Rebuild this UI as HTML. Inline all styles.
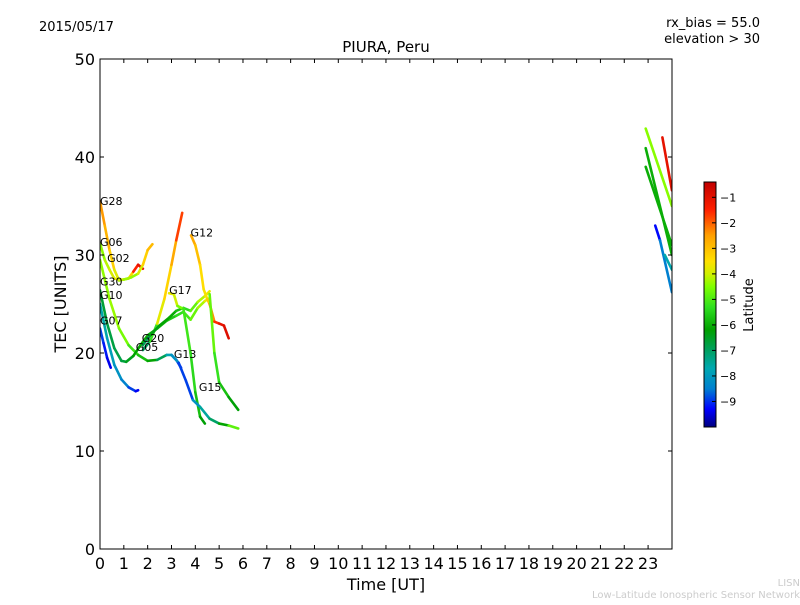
<!DOCTYPE html>
<html><head><meta charset="utf-8"><style>
body{margin:0;background:#fff}
svg text{font-family:"DejaVu Sans","Liberation Sans",sans-serif}
</style></head><body>
<svg id="c" width="800" height="600" viewBox="0 0 800 600">
<rect width="800" height="600" fill="#fff"/>
<text x="39" y="31" font-size="13">2015/05/17</text>
<text x="760" y="27" font-size="13" text-anchor="end">rx_bias = 55.0</text>
<text x="760" y="43" font-size="13" text-anchor="end">elevation &gt; 30</text>
<text x="386" y="52" font-size="15" text-anchor="middle">PIURA, Peru</text>
<text x="386" y="590" font-size="16" text-anchor="middle">Time [UT]</text>
<text transform="translate(66,304) rotate(-90)" font-size="16" text-anchor="middle">TEC [UNITS]</text>
<text x="800" y="586" font-size="10" text-anchor="end" fill="#ccc">LISN</text>
<text x="800" y="598" font-size="10" text-anchor="end" fill="#ccc">Low-Latitude Ionospheric Sensor Network</text>
<defs><clipPath id="pc"><rect x="100" y="59" width="572" height="490"/></clipPath>
<linearGradient id="jet" x1="0" y1="1" x2="0" y2="0"></linearGradient></defs>
<g id="marks" clip-path="url(#pc)"></g>
<rect x="100" y="59" width="572" height="490" fill="none" stroke="#000" stroke-width="1"/>
<g id="axes"></g>
<rect x="704" y="182" width="12" height="245" fill="url(#jet)" stroke="#000" stroke-width="1"/>
<g id="cbticks"></g>
<text transform="translate(753,305) rotate(-90)" font-size="13" text-anchor="middle">Latitude</text>
</svg>
<script>
const xTicks=[0,1,2,3,4,5,6,7,8,9,10,11,12,13,14,15,16,17,18,19,20,21,22,23];
const yTicks=[0,10,20,30,40,50];
const cbTicks=[-1,-2,-3,-4,-5,-6,-7,-8,-9];
const names=["G28","G06","G30","rise","G10","G20","G07","G07b","G12","G17","G12b","G15","R1","R2","R3","R4","R5","R6"];
const times=[
[0,0.2,0.4,0.6,0.8,1.0,1.2,1.4,1.6,1.8],
[0,0.2,0.4,0.6,0.8,1.0,1.3,1.6,1.8,2.0,2.2],
[0,0.4,0.8,1.2,1.6,2.0,2.4,2.8,3.0,3.2,3.4],
[1.8,2.1,2.4,2.7,3.0,3.2,3.45],
[0,0.3,0.6,0.9,1.1,1.4,1.7,2.0,2.4,2.8,3.2,3.5,3.8,4.1,4.4,4.6],
[1.8,2.1,2.5,2.9,3.2,3.5,3.8,4.1,4.4,4.6],
[0,0.15,0.3,0.45],
[0,0.3,0.6,0.9,1.2,1.5,1.6],
[3.82,4.0,4.2,4.35,4.5,4.6,4.8,5.0,5.2,5.4],
[2.9,3.1,3.25,3.5,3.8,4.0,4.2,4.4],
[4.6,4.8,5.0,5.4,5.8],
[3.0,3.3,3.6,3.9,4.2,4.6,5.0,5.4,5.8],
[22.9,24.0],[23.6,24.0],[22.9,24.0],[22.9,24.0],[23.3,23.5,24.0],[23.7,24.0]];
const tec=[
[35.5,33,30.5,28.5,27.4,27.5,27.6,28.3,29.0,28.6],
[31.2,29.5,28.5,27.6,27.5,27.5,27.7,28.1,29,30.5,31.1],
[29.5,25.5,22.5,20.8,19.8,19.2,19.3,19.8,19.8,19.3,18.5],
[20.3,21.2,23,25.5,29,31.5,34.3],
[26.4,23,20.5,19.2,19.1,19.7,20.8,21.8,22.5,23.3,23.8,24.2,23.4,24.6,25.3,25.6],
[20.8,21.8,22.8,23.6,24.3,24.6,24.3,25.2,25.8,26.3],
[22.5,21,19.5,18.5],
[25,21.5,18.8,17.3,16.5,16.1,16.2],
[32,31,29,26.5,25.5,25,23.2,23,22.8,21.5],
[26.1,26,24.8,24.5,20,16,13.5,12.8],
[26,20,17,15.5,14.2],
[19.8,19.0,17.2,15.2,14.5,13.3,12.8,12.6,12.3],
[42.9,35.0],[42,36.6],[40.9,30],[39,31],[33,31.5,26.2],[30,28.5]];
const lats=[
[-2.3,-2.6,-3,-3.5,-4.2,-4.6,-4.5,-2,-1,-1.1],
[-4.5,-4.3,-4,-3.8,-3.7,-4.2,-4.4,-4.3,-3.5,-3,-2.8],
[-4.5,-4.3,-4.4,-4.8,-5.5,-6,-6.3,-7.5,-8,-8.8,-9.3],
[-7.5,-6.5,-4,-3.6,-3,-2.3,-1.2],
[-6.6,-6.7,-6.8,-6.8,-6.6,-6.3,-6.1,-6,-6,-5.8,-5.5,-5.2,-5,-4.5,-4,-3.5],
[-7.3,-6.5,-6.2,-6.1,-6,-5.5,-5.2,-4.4,-4,-3.5],
[-8.8,-9,-9.3,-9.5],
[-7.5,-7.8,-8,-8.3,-8.6,-9.2,-9.5],
[-2.5,-2.8,-3.2,-3.7,-3.5,-2.8,-2,-1.2,-1,-0.8],
[-3.7,-3.8,-4.2,-5,-5.3,-5.5,-6,-6.5],
[-4.5,-5,-5.5,-6,-6.5],
[-7.8,-8.5,-9.3,-8.5,-7.8,-7.3,-6.8,-5.5,-4.2],
[-4.3,-4.6],[-1,-1.1],[-6.5,-5.5],[-6.2,-5.8],[-9.5,-9,-8],[-7.8,-7.6]];
const labels=[["G28",0,35.2],["G06",0,31.0],["G02",0.3,29.4],["G30",0,27.0],["G10",0,25.6],["G07",0,23.0],["G05",1.5,20.3],["G20",1.75,21.2],["G17",2.9,26.1],["G12",3.8,32.0],["G13",3.1,19.6],["G15",4.15,16.2]];
const sx=t=>100+t*23.83, sy=v=>549-v*9.8;
const cy=l=>182+(-0.4-l)/9.6*245;
const cstops=[[-10,[0,0,127]],[-9.3,[0,0,255]],[-8.5,[0,128,208]],[-7.7,[0,168,176]],[-7,[0,160,96]],[-6.2,[0,160,0]],[-5.3,[48,224,32]],[-4.5,[128,255,0]],[-4,[208,240,0]],[-3.5,[255,224,0]],[-2.5,[255,160,0]],[-1.5,[255,32,0]],[-0.4,[192,0,0]]];
function jet(l){
 if(l<=cstops[0][0])return `rgb(${cstops[0][1]})`;
 for(let i=0;i<cstops.length-1;i++){const [a,ca]=cstops[i],[b,cb]=cstops[i+1];
  if(l<=b){const f=(l-a)/(b-a);return `rgb(${ca.map((c,j)=>Math.round(c+(cb[j]-c)*f)).join(',')})`;}}
 return `rgb(${cstops[cstops.length-1][1]})`;}
const NS="http://www.w3.org/2000/svg";
const grad=document.getElementById('jet');
for(const [l,c] of cstops){const st=document.createElementNS(NS,'stop');st.setAttribute('offset',(l+10)/9.6);st.setAttribute('stop-color',`rgb(${c})`);grad.appendChild(st);}
const marks=document.getElementById('marks');
for(let s=0;s<times.length;s++){
 const t=times[s],v=tec[s],l=lats[s];
 for(let i=0;i<t.length-1;i++){
  const seg=document.createElementNS(NS,'line');
  seg.setAttribute('x1',sx(t[i]));seg.setAttribute('y1',sy(v[i]));
  seg.setAttribute('x2',sx(t[i+1]));seg.setAttribute('y2',sy(v[i+1]));
  seg.setAttribute('stroke',jet((l[i]+l[i+1])/2));
  seg.setAttribute('stroke-width','2.6');seg.setAttribute('stroke-linecap','round');
  
  
  marks.appendChild(seg);
 }
}
for(const [n,t,v] of labels){
 const tx=document.createElementNS(NS,'text');
 tx.setAttribute('x',sx(t));tx.setAttribute('y',sy(v)+1);tx.setAttribute('font-size','11');
 tx.textContent=n;
 
 
 marks.appendChild(tx);
}
const ax=document.getElementById('axes');
for(const t of xTicks){
 const x=sx(t);
 for(const [a,b] of [[549,545],[59,63]]){const k=document.createElementNS(NS,'line');k.setAttribute('x1',x);k.setAttribute('x2',x);k.setAttribute('y1',a);k.setAttribute('y2',b);k.setAttribute('stroke','#000');
 
 
 ax.appendChild(k);}
 const tx=document.createElementNS(NS,'text');tx.setAttribute('x',x);tx.setAttribute('y',569);tx.setAttribute('font-size','16');tx.setAttribute('text-anchor','middle');tx.textContent=t;
 
 
 ax.appendChild(tx);
}
for(const v of yTicks){
 const y=sy(v);
 for(const [a,b] of [[100,104],[672,668]]){const k=document.createElementNS(NS,'line');k.setAttribute('x1',a);k.setAttribute('x2',b);k.setAttribute('y1',y);k.setAttribute('y2',y);k.setAttribute('stroke','#000');
 
 
 ax.appendChild(k);}
 const tx=document.createElementNS(NS,'text');tx.setAttribute('x',95);tx.setAttribute('y',y+6);tx.setAttribute('font-size','16');tx.setAttribute('text-anchor','end');tx.textContent=v;
 
 
 ax.appendChild(tx);
}
const cb=document.getElementById('cbticks');
for(const l of cbTicks){
 const y=cy(l);
 const k=document.createElementNS(NS,'line');k.setAttribute('x1',712);k.setAttribute('x2',716);k.setAttribute('y1',y);k.setAttribute('y2',y);k.setAttribute('stroke','#000');
 
 
 cb.appendChild(k);
 const tx=document.createElementNS(NS,'text');tx.setAttribute('x',720);tx.setAttribute('y',y+4);tx.setAttribute('font-size','11');tx.textContent='\u2212'+(-l);
 
 
 cb.appendChild(tx);
}
</script>
</body></html>
